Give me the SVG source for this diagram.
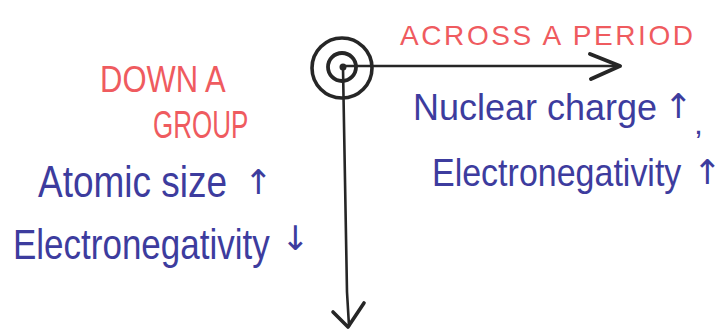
<svg xmlns="http://www.w3.org/2000/svg" width="723" height="333" viewBox="0 0 723 333">
  <style>
    .ink { fill: none; stroke: #262626; stroke-linecap: round; stroke-linejoin: round; }
    .title { font-family: "Liberation Sans", Arial, sans-serif; fill: #ef5b5f; }
    .note { font-family: "Liberation Sans", Arial, sans-serif; fill: #3d3c9e; }
    .arw { font-family: "DejaVu Sans", sans-serif; font-size: 34px; fill: #3d3c9e; }
  </style>

  <rect width="723" height="333" fill="#ffffff"/>

  <!-- atom symbol at the origin of both directions -->
  <g id="atom">
    <circle class="ink" cx="342" cy="68" r="30" stroke-width="3.6"/>
    <circle class="ink" cx="342" cy="67" r="14" stroke-width="3.8"/>
    <circle cx="343" cy="67" r="3.5" fill="#262626"/>
  </g>

  <!-- direction arrows -->
  <g id="connectors">
    <path class="ink" d="M343,66 L618,66" stroke-width="2.6"/>
    <path class="ink" d="M590,54 L620,66 L591,79" stroke-width="4"/>
    <path class="ink" d="M343,68 L347,292 L349,326" stroke-width="2.6"/>
    <path class="ink" d="M333,312 L348,327 L364,303" stroke-width="3.6"/>
  </g>

  <g id="across-period">
    <text class="title" x="400" y="45" font-size="28" textLength="293" lengthAdjust="spacing">ACROSS A PERIOD</text>
  </g>

  <g id="down-group">
    <text class="title" font-size="31" transform="translate(100,92) scale(1,1.2)">DOWN A</text>
    <text class="title" font-size="26" transform="translate(153,138) scale(1,1.5)">GROUP</text>
  </g>

  <g id="group-trends">
    <text class="note" font-size="37" transform="translate(38,197) scale(1,1.2)">Atomic size</text>
    <text class="arw" x="244" y="194">↑</text>
    <text class="note" font-size="35" transform="translate(13,259) scale(1,1.2)">Electronegativity</text>
    <text class="arw" x="281" y="250">↓</text>
  </g>

  <g id="period-trends">
    <text class="note" font-size="36" transform="translate(413,120) scale(1,1.05)">Nuclear charge</text>
    <text class="arw" x="664" y="118">↑</text>
    <text class="note" x="694" y="134" font-size="32">,</text>
    <text class="note" font-size="34" transform="translate(432,186) scale(1,1.15)">Electronegativity</text>
    <text class="arw" x="693" y="184">↑</text>
  </g>
</svg>
